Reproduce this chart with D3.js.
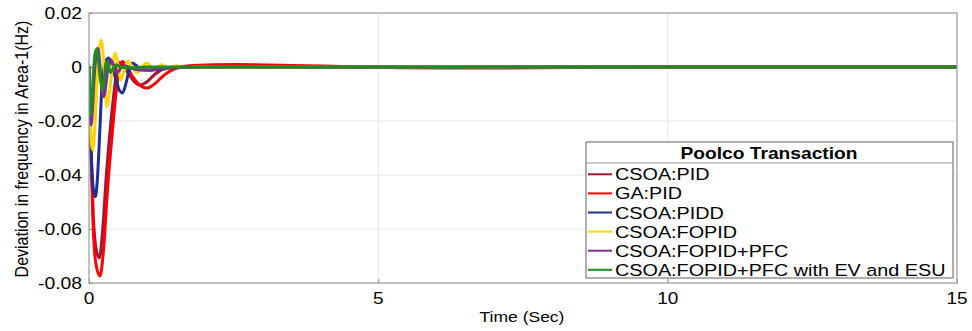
<!DOCTYPE html>
<html><head><meta charset="utf-8">
<script src="https://cdn.jsdelivr.net/npm/d3@7"></script>
<style>body{margin:0;background:#fff}svg{display:block}text{font-family:"Liberation Sans",Arial,sans-serif;fill:#000}</style>
</head><body><svg id="c" width="972" height="331"></svg>
<script>
// ---- data ----
const seriesNames = ["CSOA:PID","GA:PID","CSOA:PIDD","CSOA:FOPID","CSOA:FOPID+PFC","CSOA:FOPID+PFC with EV and ESU"];
const seriesColors = ["#A2142F","#FF0000","#1F2E96","#FFD400","#7E2F8E","#1E8C1E"];
const xTicks = [0,5,10,15];
const yTicks = [0.02,0,-0.02,-0.04,-0.06,-0.08];
const yTickLabels = ["0.02","0","-0.02","-0.04","-0.06","-0.08"];
const legendTitle = "Poolco Transaction";
const xTitle = "Time (Sec)";
const yTitle = "Deviation in frequency in Area-1(Hz)";

const csoaPid = [[0,0],[0.03,-0.026],[0.07,-0.053],[0.12,-0.067],[0.18,-0.0707],[0.23,-0.062],[0.3,-0.04],[0.38,-0.02],[0.44,-0.008],[0.49,0],[0.53,0.0017],[0.59,0.0005],[0.7,-0.003],[0.8,-0.0058],[0.88,-0.0067],[0.98,-0.0058],[1.15,-0.0025],[1.35,-0.0003],[1.7,0.0003],[2.5,0.0004],[4,0.0001],[6,-0.0001],[9,0],[15,0]];
const gaPid = [[0,0],[0.03,-0.028],[0.07,-0.058],[0.12,-0.073],[0.19,-0.0774],[0.25,-0.068],[0.32,-0.0455],[0.4,-0.025],[0.47,-0.009],[0.53,0],[0.58,0.002],[0.64,0.0005],[0.75,-0.0035],[0.88,-0.0068],[1.0,-0.0078],[1.12,-0.0065],[1.3,-0.003],[1.5,-0.0005],[1.8,0.0006],[2.5,0.0009],[3.5,0.0006],[4.5,0.0001],[5.5,-0.0003],[7,-0.0004],[8.5,-0.0002],[10,0],[15,0]];
const csoaPidd = [[0,0],[0.02,-0.02],[0.05,-0.038],[0.08,-0.046],[0.11,-0.048],[0.14,-0.043],[0.18,-0.027],[0.22,-0.0085],[0.27,0.001],[0.34,0.0033],[0.4,0.0005],[0.47,-0.005],[0.53,-0.0088],[0.58,-0.0096],[0.64,-0.006],[0.7,-0.0005],[0.75,0.0015],[0.8,0.0008],[0.9,-0.0008],[1.05,-0.0012],[1.25,-0.0008],[1.5,-0.0002],[2,0],[4,-0.0001],[6,-0.0002],[8,0],[15,0]];
const csoaFopid = [[0,0],[0.02,-0.018],[0.04,-0.028],[0.064,-0.0307],[0.09,-0.026],[0.13,-0.01],[0.17,0.005],[0.207,0.010],[0.24,0.006],[0.27,-0.004],[0.31,-0.0147],[0.35,-0.01],[0.4,-0.001],[0.455,0.0051],[0.5,0.001],[0.55,-0.0048],[0.6,-0.002],[0.67,0.0022],[0.75,0],[0.83,-0.0021],[0.92,0],[1.0,0.0015],[1.07,0],[1.13,-0.0009],[1.19,0],[1.25,0.0008],[1.32,0],[1.39,-0.0004],[1.45,0],[1.52,0.0005],[1.6,0],[1.7,-0.0002],[1.9,0.0001],[2.5,0],[15,0]];
const csoaFopidPfc = [[0,0],[0.015,-0.014],[0.035,-0.0215],[0.06,-0.016],[0.09,-0.004],[0.12,0.004],[0.15,0.0069],[0.18,0.003],[0.21,-0.005],[0.25,-0.011],[0.29,-0.007],[0.33,0.0005],[0.37,0.0028],[0.42,0.001],[0.48,-0.0022],[0.55,-0.0005],[0.62,0.0005],[0.72,-0.0004],[0.85,-0.001],[1.0,-0.0012],[1.2,-0.0007],[1.5,-0.0002],[2,0],[15,0]];
const csoaFopidPfcEv = [[0,0],[0.012,-0.012],[0.029,-0.0178],[0.05,-0.012],[0.08,-0.001],[0.105,0.005],[0.13,0.0065],[0.16,0.003],[0.2,-0.005],[0.235,-0.0085],[0.265,-0.004],[0.3,0.002],[0.33,0.001],[0.37,-0.002],[0.42,-0.0005],[0.47,0.0008],[0.55,0],[0.7,-0.0003],[1,0],[15,0]];
const seriesData = [csoaPid, gaPid, csoaPidd, csoaFopid, csoaFopidPfc, csoaFopidPfcEv];

// ---- layout ----
const L=89, R=957, T=13, B=283;
const svg = d3.select("#c");
const x = d3.scaleLinear().domain([0,15]).range([L,R]);
const y = d3.scaleLinear().domain([-0.08,0.02]).range([B,T]);

function stext(parent, txt, tx, ty, sx, opts){
  const t = parent.append("text").attr("transform",`translate(${tx},${ty}) scale(${sx},1)`).text(txt);
  for (const k in opts) t.attr(k, opts[k]);
  return t;
}

svg.append("rect").attr("width",972).attr("height",331).attr("fill","#fff");

// grid
const grid = svg.append("g");
grid.selectAll(".gx").data(xTicks.slice(1,-1)).join("line")
  .attr("x1",d=>x(d)).attr("x2",d=>x(d)).attr("y1",T).attr("y2",B).attr("stroke","#e6e6e6").attr("stroke-width",1);
grid.selectAll(".gy").data(yTicks.slice(1,-1)).join("line")
  .attr("y1",d=>y(d)).attr("y2",d=>y(d)).attr("x1",L).attr("x2",R).attr("stroke","#e6e6e6").attr("stroke-width",1);

// axes via d3
const gx = svg.append("g").attr("transform",`translate(0,${B})`)
  .call(d3.axisBottom(x).tickValues(xTicks).tickSize(-4).tickFormat(""));
const gy = svg.append("g").attr("transform",`translate(${L},0)`)
  .call(d3.axisLeft(y).tickValues(yTicks).tickSize(-4).tickFormat(""));
[gx,gy].forEach(g=>{g.select(".domain").remove(); g.selectAll("line").attr("stroke","#8a8a8a");});

// tick labels
xTicks.forEach(v=>stext(svg, String(v), x(v), 304, 1.15, {"text-anchor":"middle","font-size":"16.5px"}));
yTicks.forEach((v,i)=>stext(svg, yTickLabels[i], 82, y(v)+6, 1.17, {"text-anchor":"end","font-size":"16.5px"}));

// lines
svg.append("clipPath").attr("id","clip").append("rect").attr("x",L).attr("y",T).attr("width",R-L).attr("height",B-T);
const line = d3.line().x(d=>x(d[0])).y(d=>y(d[1])).curve(d3.curveMonotoneX);
svg.append("g").attr("clip-path","url(#clip)").selectAll("path").data(seriesData).join("path")
  .attr("d",line).attr("fill","none").attr("stroke",(d,i)=>seriesColors[i]).attr("stroke-width",3)
  .attr("stroke-linejoin","round").attr("stroke-linecap","round");

// box
svg.append("rect").attr("x",L).attr("y",T).attr("width",R-L).attr("height",B-T)
  .attr("fill","none").attr("stroke","#9a9a9a").attr("stroke-width",1.2);

// titles
stext(svg, xTitle, 522, 322, 1.13, {"text-anchor":"middle","font-size":"15.5px"});
svg.append("g").attr("transform","translate(21,149) scale(1.2,1) rotate(-90)")
  .append("text").attr("text-anchor","middle").attr("dy","0.35em").attr("font-size","16px").text(yTitle);

// legend
const lg = svg.append("g");
const lx0=586, lx1=953, ly0=142, ly1=278;
lg.append("rect").attr("x",lx0).attr("y",ly0).attr("width",lx1-lx0).attr("height",ly1-ly0)
  .attr("fill","#fff").attr("stroke","#7a7a7a").attr("stroke-width",1.2);
lg.append("line").attr("x1",lx0).attr("x2",lx1).attr("y1",163).attr("y2",163).attr("stroke","#9a9a9a").attr("stroke-width",1);
stext(lg, legendTitle, 769, 159, 1.2, {"text-anchor":"middle","font-size":"16px","font-weight":"bold"});
seriesNames.forEach((n,i)=>{
  const cy = 174.3 + i*19.1;
  lg.append("line").attr("x1",588).attr("x2",612).attr("y1",cy).attr("y2",cy).attr("stroke",seriesColors[i]).attr("stroke-width",2);
  stext(lg, n, 615, cy+6, 1.2, {"font-size":"16.5px"});
});
</script></body></html>
